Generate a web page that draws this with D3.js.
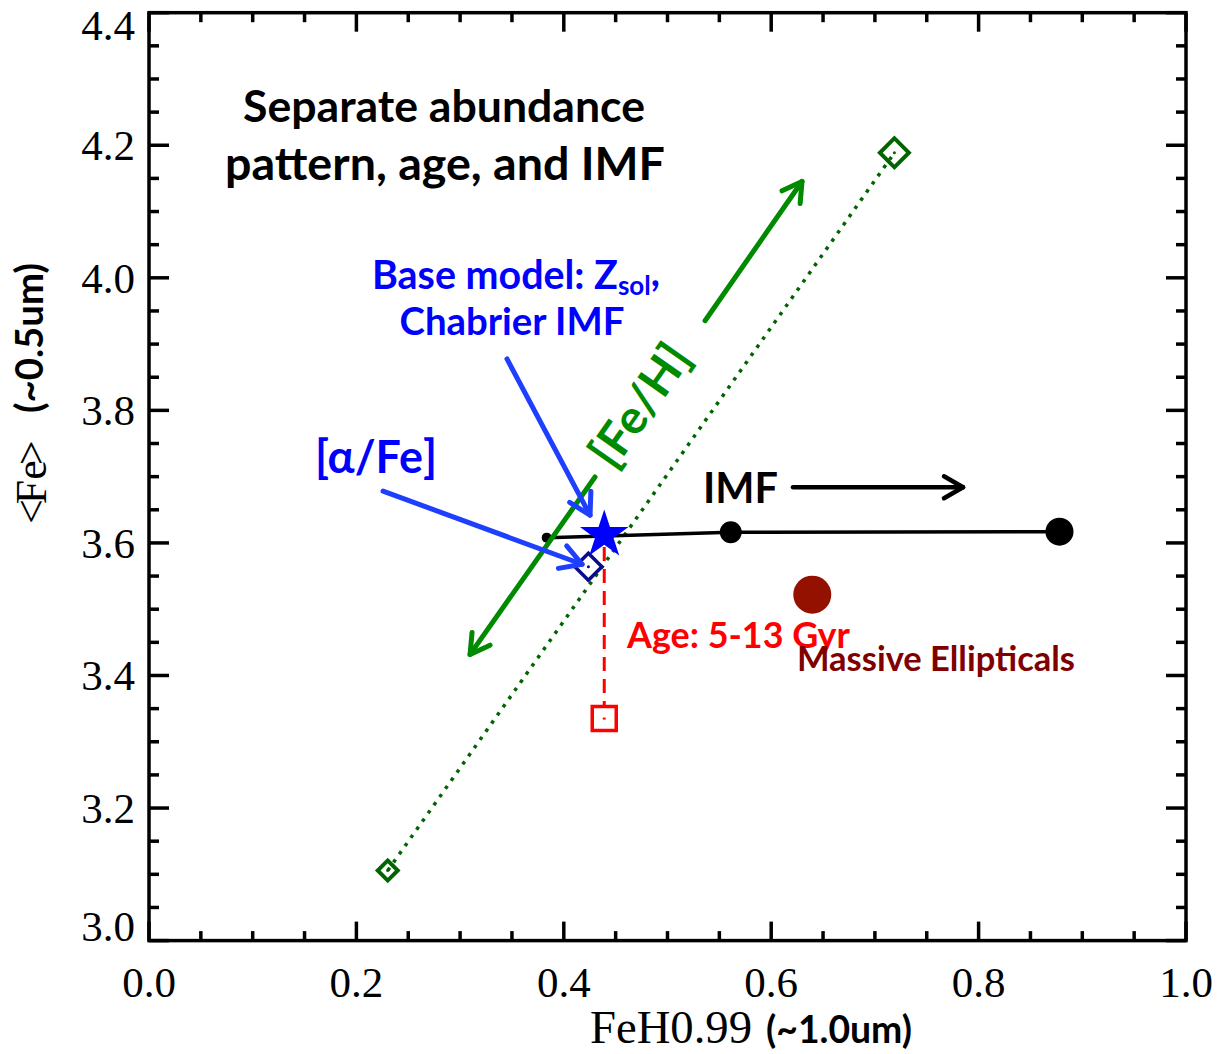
<!DOCTYPE html>
<html>
<head>
<meta charset="utf-8">
<script src="https://cdn.jsdelivr.net/npm/d3@7"></script>
<style>
  body { margin: 0; background: #fff; }
  svg { display: block; }
</style>
</head>
<body>
<svg id="chart" width="1220" height="1054"></svg>
<script>
// ---- axis ticks ----
const xMajorTicks = [0.0, 0.2, 0.4, 0.6, 0.8, 1.0];
const xTickLabels = ["0.0", "0.2", "0.4", "0.6", "0.8", "1.0"];
const yMajorTicks = [3.0, 3.2, 3.4, 3.6, 3.8, 4.0, 4.2, 4.4];
const yTickLabels = ["3.0", "3.2", "3.4", "3.6", "3.8", "4.0", "4.2", "4.4"];

// ---- model tracks ----
// IMF sequence (Chabrier -> bottom-heavy)
const imfX = [0.3835, 0.561, 0.878];
const imfY = [3.608, 3.616, 3.617];
// [Fe/H] sequence (metal-poor -> metal-rich)
const fehX = [0.2302, 0.7188];
const fehY = [3.1057, 4.1887];
// base model: solar metallicity, Chabrier IMF
const baseModel = [0.439, 3.612];
// alpha-enhanced model
const alphaModel = [0.4237, 3.564];
// older-age model (age track runs from base to here)
const ageModel = [0.439, 3.335];
// observed massive ellipticals
const ellipticals = [0.6396, 3.522];

// ---- annotation arrows, in data units [x0, y0, x1, y1] ----
const fehArrowLow = [0.4301, 3.6995, 0.3096, 3.4318];
const fehArrowHigh = [0.5362, 3.9353, 0.6297, 4.1453];
const baseArrow = [0.3452, 3.8777, 0.4253, 3.6419];
const alphaArrow = [0.2257, 3.6782, 0.4176, 3.5678];
const imfArrow = [0.621, 3.684, 0.785, 3.684];

const svg = d3.select("#chart");
const x = d3.scaleLinear().domain([0, 1]).range([149, 1186]);
const y = d3.scaleLinear().domain([3.0, 4.4]).range([940.6, 12.7]);

const SERIF = "'Liberation Serif', 'Times New Roman', serif";
const SANS = "Lato, 'Open Sans', 'Noto Sans', sans-serif";

// scale font-size so the rendered text spans the given width
function fitText(sel, width) {
  const fs = parseFloat(sel.attr("font-size"));
  const len = sel.node().getComputedTextLength();
  if (len > 0) sel.attr("font-size", (fs * width / len).toFixed(2));
  return sel;
}

// ---- frame and ticks ----
const frame = svg.append("g");
const xMinor = d3.range(0, 1.0001, 0.05).filter(v => !xMajorTicks.some(t => Math.abs(t - v) < 1e-6));
const yMinor = d3.range(3.0, 4.4001, 0.05).filter(v => !yMajorTicks.some(t => Math.abs(t - v) < 1e-6));

function tickLines(vals, len, horizontal) {
  vals.forEach(v => {
    if (horizontal) {
      frame.append("line").attr("x1", x(v)).attr("x2", x(v)).attr("y1", y.range()[0]).attr("y2", y.range()[0] - len);
      frame.append("line").attr("x1", x(v)).attr("x2", x(v)).attr("y1", y.range()[1]).attr("y2", y.range()[1] + len);
    } else {
      frame.append("line").attr("y1", y(v)).attr("y2", y(v)).attr("x1", x.range()[0]).attr("x2", x.range()[0] + len);
      frame.append("line").attr("y1", y(v)).attr("y2", y(v)).attr("x1", x.range()[1]).attr("x2", x.range()[1] - len);
    }
  });
}
tickLines(xMajorTicks, 19, true);
tickLines(xMinor, 9.5, true);
tickLines(yMajorTicks, 20, false);
tickLines(yMinor, 10, false);
frame.selectAll("line").attr("stroke", "#000").attr("stroke-width", 3.5);
frame.append("rect")
  .attr("x", x.range()[0]).attr("y", y.range()[1])
  .attr("width", x.range()[1] - x.range()[0])
  .attr("height", y.range()[0] - y.range()[1])
  .attr("fill", "none").attr("stroke", "#000").attr("stroke-width", 3.5);

// tick labels
const tickFont = 43;
xMajorTicks.forEach((v, i) => {
  svg.append("text").attr("x", x(v)).attr("y", 997)
    .attr("text-anchor", "middle").attr("font-family", SERIF).attr("font-size", tickFont)
    .text(xTickLabels[i]);
});
const digitH = 27;
yMajorTicks.forEach((v, i) => {
  const base = Math.min(Math.max(y(v) + 15, y.range()[1] + digitH), y.range()[0]);
  svg.append("text").attr("x", 135).attr("y", base)
    .attr("text-anchor", "end").attr("font-family", SERIF).attr("font-size", tickFont)
    .text(yTickLabels[i]);
});

// axis titles
const xt1 = svg.append("text").attr("x", 590).attr("y", 1043)
  .attr("font-family", SERIF).attr("font-size", 40).text("FeH0.99");
fitText(xt1, 162);
const xt2 = svg.append("text").attr("x", 766).attr("y", 1043)
  .attr("font-family", SANS).attr("font-weight", 700).attr("font-size", 28).text("(~1.0um)");
fitText(xt2, 146);

// y title: serif "<Fe>" then bold sans wavelength note, rotated
const yTitle = svg.append("g").attr("transform", "translate(46,524) rotate(-90)");
const yt1 = yTitle.append("text").attr("x", 0).attr("y", 0)
  .attr("font-family", SERIF).attr("font-size", 44);
yt1.append("tspan").text("<");
yt1.append("tspan").attr("dx", -5).text("Fe");
yt1.append("tspan").attr("dx", -5).text(">");
const yt2 = yTitle.append("text").attr("x", 111).attr("y", -3)
  .attr("font-family", SANS).attr("font-weight", 700).attr("font-size", 28).text("(~0.5um)");
fitText(yt2, 150);

// ---- data marks ----
const plot = svg.append("g");
const line = d3.line().x(d => x(d[0])).y(d => y(d[1]));

// [Fe/H] track (dotted)
const fehPts = fehX.map((v, i) => [v, fehY[i]]);
plot.append("path").attr("d", line(fehPts))
  .attr("fill", "none").attr("stroke", "#006400").attr("stroke-width", 3.5)
  .attr("stroke-dasharray", "3.5,6.5");
const fehSizes = [200, 420];
fehPts.forEach((p, i) => {
  plot.append("path").attr("d", d3.symbol(d3.symbolSquare, fehSizes[i])())
    .attr("transform", `translate(${x(p[0])},${y(p[1])}) rotate(45)`)
    .attr("fill", "none").attr("stroke", "#006400").attr("stroke-width", 4);
  plot.append("circle").attr("cx", x(p[0])).attr("cy", y(p[1])).attr("r", 1.5).attr("fill", "#006400");
});

// IMF track
const imfPts = imfX.map((v, i) => [v, imfY[i]]);
plot.append("path").attr("d", line(imfPts))
  .attr("fill", "none").attr("stroke", "#000").attr("stroke-width", 3.5);
const imfRadius = [5, 11, 14];
imfPts.forEach((p, i) => {
  plot.append("circle").attr("cx", x(p[0])).attr("cy", y(p[1])).attr("r", imfRadius[i]).attr("fill", "#000");
});

// age track (dashed)
plot.append("line")
  .attr("x1", x(baseModel[0])).attr("y1", y(baseModel[1]) + 12)
  .attr("x2", x(ageModel[0])).attr("y2", y(ageModel[1]) - 12)
  .attr("stroke", "#ff0000").attr("stroke-width", 3).attr("stroke-dasharray", "14,8");
plot.append("path").attr("d", d3.symbol(d3.symbolSquare, 576)())
  .attr("transform", `translate(${x(ageModel[0])},${y(ageModel[1])})`)
  .attr("fill", "none").attr("stroke", "#ff0000").attr("stroke-width", 3.5);
plot.append("rect").attr("x", x(ageModel[0]) - 1.5).attr("y", y(ageModel[1]) - 1)
  .attr("width", 3).attr("height", 2).attr("fill", "#ff0000");

// alpha-enhanced model
plot.append("path").attr("d", d3.symbol(d3.symbolSquare, 365)())
  .attr("transform", `translate(${x(alphaModel[0])},${y(alphaModel[1])}) rotate(45)`)
  .attr("fill", "none").attr("stroke", "#0a0a8c").attr("stroke-width", 3.5);
plot.append("circle").attr("cx", x(alphaModel[0])).attr("cy", y(alphaModel[1])).attr("r", 1.5).attr("fill", "#0a0a8c");

// base model star
plot.append("path").attr("d", d3.symbol(d3.symbolStar, 730)())
  .attr("transform", `translate(${x(baseModel[0])},${y(baseModel[1])})`)
  .attr("fill", "#0000ff");

// massive ellipticals
plot.append("circle").attr("cx", x(ellipticals[0])).attr("cy", y(ellipticals[1]))
  .attr("r", 19).attr("fill", "#941100");

// ---- annotation arrows ----
function arrow(a, color, width, headLen) {
  const x0 = x(a[0]), y0 = y(a[1]), x1 = x(a[2]), y1 = y(a[3]);
  const g = plot.append("g").attr("stroke", color).attr("stroke-width", width)
    .attr("fill", "none").attr("stroke-linecap", "round").attr("stroke-linejoin", "round");
  g.append("line").attr("x1", x0).attr("y1", y0).attr("x2", x1).attr("y2", y1);
  const ang = Math.atan2(y1 - y0, x1 - x0);
  const spread = Math.PI / 6;
  const p1 = [x1 - headLen * Math.cos(ang - spread), y1 - headLen * Math.sin(ang - spread)];
  const p2 = [x1 - headLen * Math.cos(ang + spread), y1 - headLen * Math.sin(ang + spread)];
  g.append("path").attr("d", `M${p1[0]},${p1[1]}L${x1},${y1}L${p2[0]},${p2[1]}`);
}
arrow(fehArrowLow, "#008a00", 5, 22);
arrow(fehArrowHigh, "#008a00", 5, 22);
arrow(baseArrow, "#1f3fff", 5, 24);
arrow(alphaArrow, "#1f3fff", 5, 24);
arrow(imfArrow, "#000", 4.5, 22);

// ---- annotation text ----
const t1 = svg.append("text").attr("x", 444).attr("y", 122).attr("text-anchor", "middle")
  .attr("font-family", SANS).attr("font-weight", 700).attr("font-size", 40).attr("fill", "#000")
  .text("Separate abundance");
fitText(t1, 402);
const t2 = svg.append("text").attr("x", 445).attr("y", 180).attr("text-anchor", "middle")
  .attr("font-family", SANS).attr("font-weight", 700).attr("font-size", 40).attr("fill", "#000")
  .text("pattern, age, and IMF");
fitText(t2, 440);

const b1 = svg.append("text").attr("x", 372).attr("y", 289)
  .attr("font-family", SANS).attr("font-weight", 700).attr("font-size", 33).attr("fill", "#0000ff");
b1.append("tspan").text("Base model: Z");
b1.append("tspan").attr("font-size", "0.66em").attr("dy", "0.22em").text("sol");
b1.append("tspan").attr("dy", "-0.22em").text(",");
fitText(b1, 288);
const b2 = svg.append("text").attr("x", 512).attr("y", 335).attr("text-anchor", "middle")
  .attr("font-family", SANS).attr("font-weight", 700).attr("font-size", 33).attr("fill", "#0000ff")
  .text("Chabrier IMF");
fitText(b2, 225);

const a1 = svg.append("text").attr("x", 376).attr("y", 473).attr("text-anchor", "middle")
  .attr("font-family", SANS).attr("font-weight", 700).attr("font-size", 42).attr("fill", "#0000ff")
  .text("[α/Fe]");
fitText(a1, 122);

const fehAngle = Math.atan2(y(fehArrowHigh[3]) - y(fehArrowLow[3]), x(fehArrowHigh[2]) - x(fehArrowLow[2])) * 180 / Math.PI;
const f1 = svg.append("text").attr("transform", `translate(638,404) rotate(${fehAngle})`)
  .attr("text-anchor", "middle").attr("dominant-baseline", "central")
  .attr("font-family", SANS).attr("font-weight", 700).attr("font-size", 40).attr("fill", "#008a00")
  .text("[Fe/H]");
fitText(f1, 138);

const i1 = svg.append("text").attr("x", 703).attr("y", 503)
  .attr("font-family", SANS).attr("font-weight", 700).attr("font-size", 38).attr("fill", "#000")
  .text("IMF");
fitText(i1, 75);

const g1 = svg.append("text").attr("x", 627).attr("y", 648)
  .attr("font-family", SANS).attr("font-weight", 700).attr("font-size", 30).attr("fill", "#ff0000")
  .text("Age: 5-13 Gyr");
fitText(g1, 223);

const m1 = svg.append("text").attr("x", 797).attr("y", 671)
  .attr("font-family", SANS).attr("font-weight", 700).attr("font-size", 32).attr("fill", "#800000")
  .text("Massive Ellipticals");
fitText(m1, 278);
</script>
</body>
</html>
